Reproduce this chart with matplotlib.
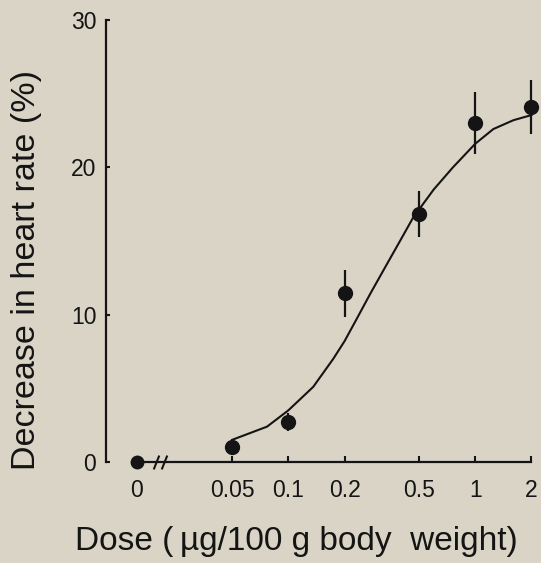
import numpy as np
import matplotlib
matplotlib.use("Agg")
import matplotlib.pyplot as plt

plt.rcParams['font.family'] = ['Liberation Sans', 'DejaVu Sans']

# measured points (dose in ug/100 g body weight, decrease in heart rate %)
doses = [0.05, 0.1, 0.2, 0.5, 1, 2]
decrease = [1.0, 2.7, 11.45, 16.85, 23.0, 24.1]
errors = [0.3, 0.6, 1.6, 1.55, 2.1, 1.85]
control_value = 0.0

# fitted curve
curve_dose = [0.05, 0.077, 0.10, 0.136, 0.174, 0.20, 0.232, 0.274, 0.336,
              0.40, 0.466, 0.60, 0.76, 1.0, 1.25, 1.6, 2.0]
curve_val = [1.5, 2.4, 3.5, 5.1, 7.0, 8.2, 9.7, 11.4, 13.4,
             15.1, 16.6, 18.5, 20.0, 21.6, 22.6, 23.2, 23.55]

tick_labels = ['0', '0.05', '0.1', '0.2', '0.5', '1', '2']
yticks = [0, 10, 20, 30]

bg = '#d9d4c5'
ink = '#141414'
zero_pos = 0.0155   # where the "0" dose sits on the log axis

fig = plt.figure(figsize=(5.41, 5.63), dpi=100, facecolor=bg)
ax = fig.add_axes([0.1959, 0.1794, 0.7948, 0.785], facecolor=bg)
ax.set_xscale('log')
ax.set_xlim(10 ** -1.975, 10 ** 0.325)
ax.set_ylim(0, 30)

ax.plot(curve_dose, curve_val, color=ink, lw=1.5, zorder=2)
ax.errorbar(doses, decrease, yerr=errors, fmt='o', color=ink, ms=10,
            elinewidth=1.6, capsize=0, clip_on=False, zorder=3)
ax.plot([zero_pos], [control_value], 'o', color=ink, ms=9, clip_on=False, zorder=3)

for s in ['top', 'right']:
    ax.spines[s].set_visible(False)
ax.spines['left'].set_linewidth(1.6)
ax.spines['left'].set_color(ink)
ax.spines['left'].set_bounds(0, 30)
ax.spines['bottom'].set_linewidth(1.6)
ax.spines['bottom'].set_color(ink)
ax.spines['bottom'].set_bounds(zero_pos, 2)

# axis break marks
ax.plot([0.0196, 0.0216], [0, 0], linestyle='none', color=ink,
        marker=[(-0.4, -1), (0.4, 1)], ms=10, mew=1.5, clip_on=False, zorder=4)

ax.set_xticks([zero_pos] + doses)
ax.set_xticklabels(tick_labels)
ax.xaxis.set_minor_locator(matplotlib.ticker.NullLocator())
ax.set_yticks(yticks)
ax.tick_params(axis='x', direction='in', length=4, width=1.5, pad=12,
               labelsize=16.5, colors=ink)
ax.tick_params(axis='y', direction='in', length=3, width=1.5, pad=7,
               labelsize=16.5, colors=ink)

ax.set_xlabel('Dose (\u2009\u00b5g/100 g body  weight)', fontsize=24, color=ink)
ax.xaxis.set_label_coords(0.442, -0.145)
ax.set_ylabel('Decrease in heart rate (%)', fontsize=24.5, color=ink)
ax.yaxis.set_label_coords(-0.148, 0.434)

fig.savefig('out.png', dpi=100, facecolor=bg)
